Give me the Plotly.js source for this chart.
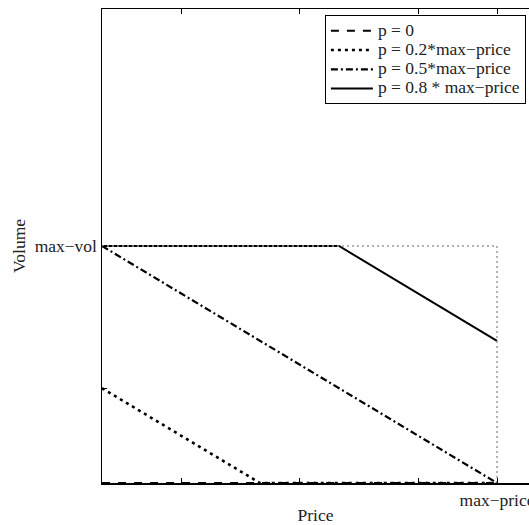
<!DOCTYPE html>
<html>
<head>
<meta charset="utf-8">
<script src="https://cdn.plot.ly/plotly-3.0.1.min.js"></script>
<style>html,body{margin:0;padding:0;background:#fff;overflow:hidden}#chart{width:529px;height:525px}</style>
</head>
<body>
<div id="chart"></div>
<script>
// Price in units of max-price, Volume in units of max-vol
const seriesNames = ["p = 0", "p = 0.2*max\u2212price", "p = 0.5*max\u2212price", "p = 0.8 * max\u2212price"];
const p0_x = [0, 1];
const p0_y = [0, 0];
const p02_x = [0, 0.4, 1];
const p02_y = [0.4, 0, 0];
const p05_x = [0, 1];
const p05_y = [1, 0];
const p08_x = [0, 0.6, 1];
const p08_y = [1, 1, 0.6];
const box_x = [0, 1, 1];
const box_y = [1, 1, 0];
const xTickVals = [0.2, 0.5, 0.8, 1];
const xTickText = ["", "", "", "max\u2212price"];
const yTickVals = [0.4, 1];
const yTickText = ["", "max\u2212vol"];

const fam = "Liberation Serif, Times New Roman, serif";
const font = {family: fam, size: 17.5, color: "#222"};
const big = s => '<span style="font-size:17.5px">' + s + '</span>';

const traces = [
  {x: p0_x, y: p0_y, name: big(seriesNames[0]), mode: "lines", line: {color: "#000", width: 2, dash: "8px,8px"}},
  {x: p02_x, y: p02_y, name: big(seriesNames[1]), mode: "lines", line: {color: "#000", width: 2.6, dash: "3px,4px"}},
  {x: p05_x, y: p05_y, name: big(seriesNames[2]), mode: "lines", line: {color: "#000", width: 2.2, dash: "7px,3px,2px,3px"}},
  {x: p08_x, y: p08_y, name: big(seriesNames[3]), mode: "lines", line: {color: "#000", width: 2}},
  {x: box_x, y: box_y, name: "limits", mode: "lines", showlegend: false, line: {color: "#999", width: 1.5, dash: "2px,3px"}}
];

const layout = {
  width: 529, height: 525,
  margin: {l: 102, r: 0, t: 9, b: 42},
  paper_bgcolor: "#fff", plot_bgcolor: "#fff",
  font: font,
  showlegend: true,
  legend: {
    x: 0.522, y: 0.987, xanchor: "left", yanchor: "top",
    bgcolor: "#fff", bordercolor: "#000", borderwidth: 1,
    font: {family: fam, size: 12.5, color: "#222"}, itemwidth: 42, tracegroupgap: 0
  },
  xaxis: {
    range: [0, 1.081], showgrid: false, zeroline: false,
    showline: true, linecolor: "#000", linewidth: 1.5, mirror: "ticks",
    ticks: "inside", ticklen: 5, tickwidth: 1, tickcolor: "#000",
    tickmode: "array", tickvals: xTickVals, ticktext: xTickText,
    ticklabeloverflow: "allow",
    title: {text: "Price", font: font}
  },
  yaxis: {
    range: [0, 2], showgrid: false, zeroline: false,
    showline: true, linecolor: "#000", linewidth: 1.5,
    ticks: "inside", ticklen: 5, tickwidth: 1, tickcolor: "#000",
    tickmode: "array", tickvals: yTickVals, ticktext: yTickText,
    automargin: true,
    title: {text: "Volume", font: font, standoff: 4}
  }
};

Plotly.newPlot("chart", traces, layout, {displayModeBar: false, staticPlot: true});
</script>
</body>
</html>
